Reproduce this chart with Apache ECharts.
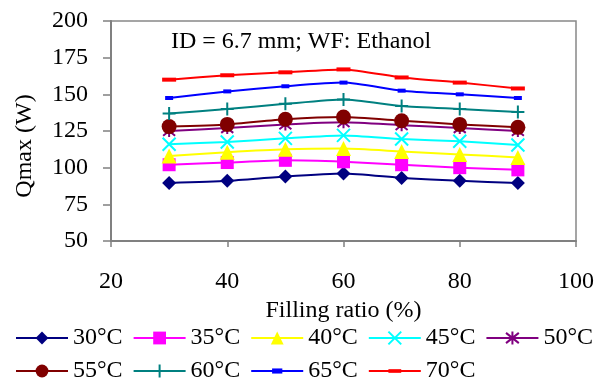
<!DOCTYPE html>
<html>
<head>
<meta charset="utf-8">
<script src="https://cdn.jsdelivr.net/npm/echarts@6/dist/echarts.min.js"></script>
<style>
  html, body { margin: 0; padding: 0; background: #fff; }
  #chart { width: 597px; height: 381px; }
</style>
</head>
<body>
<div id="chart"></div>
<script>
// Filling ratio (%) on the x axis
const fillingRatio = [30, 40, 50, 60, 70, 80, 90];

// Maximum heat transfer rate Qmax (W) per evaporator temperature
const seriesNames = ['30°C', '35°C', '40°C', '45°C', '50°C', '55°C', '60°C', '65°C', '70°C'];
const q30 = [89.5, 91, 94, 96, 93, 91, 89.5];
const q35 = [102, 103.5, 105, 104, 102, 100, 98.5];
const q40 = [108, 110.5, 112.5, 113, 111, 109, 107];
const q45 = [116, 117.5, 120, 122, 119.5, 118, 115.5];
const q50 = [125, 127, 129.5, 131, 129, 127, 125];
const q55 = [128, 129.5, 133, 134.5, 132, 129.5, 127.5];
const q60 = [137, 140, 143.5, 146.5, 142, 140, 138];
const q65 = [147.5, 152, 155.5, 158, 152.5, 150, 147.5];
const q70 = [160, 163, 165, 167, 161.5, 158, 154];

// Axis ticks
const xTicks = [20, 40, 60, 80, 100];
const yTicks = [50, 75, 100, 125, 150, 175, 200];

const FONT = '"Liberation Serif", "Times New Roman", serif';

const values = [q30, q35, q40, q45, q50, q55, q60, q65, q70];
const colors = ['#000080', '#FF00FF', '#FFFF00', '#00FFFF', '#800080', '#800000', '#008080', '#0000FF', '#FF0000'];

const strokeShape = (path, color) => ({
  symbol: path,
  itemStyle: { color: 'none', borderColor: color, borderWidth: 2 }
});

// Marker look per series; the dash markers sit inside a square box so the
// legend icon keeps their flat proportions
const markers = [
  { symbol: 'diamond', symbolSize: 14 },
  { symbol: 'rect', symbolSize: 13 },
  { symbol: 'triangle', symbolSize: 15 },
  Object.assign({ symbolSize: 13 }, strokeShape('path://M0,0L10,10M10,0L0,10', colors[3])),
  Object.assign({ symbolSize: 12 }, strokeShape('path://M5,0L5,10M1,1L9,9M9,1L1,9', colors[4])),
  { symbol: 'circle', symbolSize: 15 },
  Object.assign({ symbolSize: 13 }, strokeShape('path://M5,0L5,10M0,5L10,5', colors[6])),
  { symbol: 'path://M0,0M10,10M1,3L9,3L9,7L1,7Z', symbolSize: 10 },
  { symbol: 'path://M0,0M14,14M0,5L14,5L14,9L0,9Z', symbolSize: 14 }
];

const series = seriesNames.map((name, i) => {
  const m = markers[i];
  return {
    name: name,
    type: 'line',
    smooth: 0.2,
    data: fillingRatio.map((x, j) => [x, values[i][j]]),
    symbol: m.symbol,
    symbolSize: m.symbolSize,
    symbolKeepAspect: false,
    showAllSymbol: true,
    lineStyle: { color: colors[i], width: 2 },
    itemStyle: m.itemStyle || { color: colors[i] },
    color: colors[i],
    emphasis: { disabled: true },
    z: 2 + i
  };
});

const legendCommon = {
  left: 15,
  width: 590,
  padding: 0,
  itemWidth: 52,
  itemHeight: 16,
  itemGap: 10,
  textStyle: { fontFamily: FONT, fontSize: 24, color: '#000' },
  selectedMode: false
};

const chart = echarts.init(document.getElementById('chart'));
chart.setOption({
  animation: false,
  backgroundColor: '#fff',
  grid: {
    left: 111, top: 21, width: 468, height: 220,
    show: true, borderColor: '#888', borderWidth: 1.5
  },
  xAxis: {
    type: 'value',
    min: xTicks[0], max: xTicks[xTicks.length - 1], interval: 20,
    name: 'Filling ratio (%)',
    nameLocation: 'middle',
    nameGap: 47,
    nameTextStyle: { fontFamily: FONT, fontSize: 24, color: '#000' },
    axisLine: { lineStyle: { color: '#808080', width: 2 } },
    axisTick: { show: true, length: 6, lineStyle: { color: '#808080', width: 1.5 } },
    axisLabel: { fontFamily: FONT, fontSize: 24, color: '#000', margin: 29 },
    splitLine: { show: false }
  },
  yAxis: {
    type: 'value',
    min: yTicks[0], max: yTicks[yTicks.length - 1], interval: 25,
    axisLine: { show: true, lineStyle: { color: '#808080', width: 2 } },
    axisTick: { show: true, length: 8, lineStyle: { color: '#808080', width: 1.5 } },
    axisLabel: { fontFamily: FONT, fontSize: 24, color: '#000', margin: 23 },
    splitLine: { show: false }
  },
  legend: [
    Object.assign({ top: 326, data: seriesNames.slice(0, 5) }, legendCommon),
    Object.assign({ top: 359, data: seriesNames.slice(5) }, legendCommon)
  ],
  graphic: [
    {
      type: 'text', left: 171, top: 30,
      style: { text: 'ID = 6.7 mm; WF: Ethanol', font: '24px ' + FONT, fill: '#000' }
    },
    {
      type: 'text', x: 25, y: 146, rotation: Math.PI / 2,
      style: { text: 'Qmax (W)', font: '24px ' + FONT, fill: '#000', align: 'center', verticalAlign: 'middle' }
    }
  ],
  series: series
});
</script>
</body>
</html>
